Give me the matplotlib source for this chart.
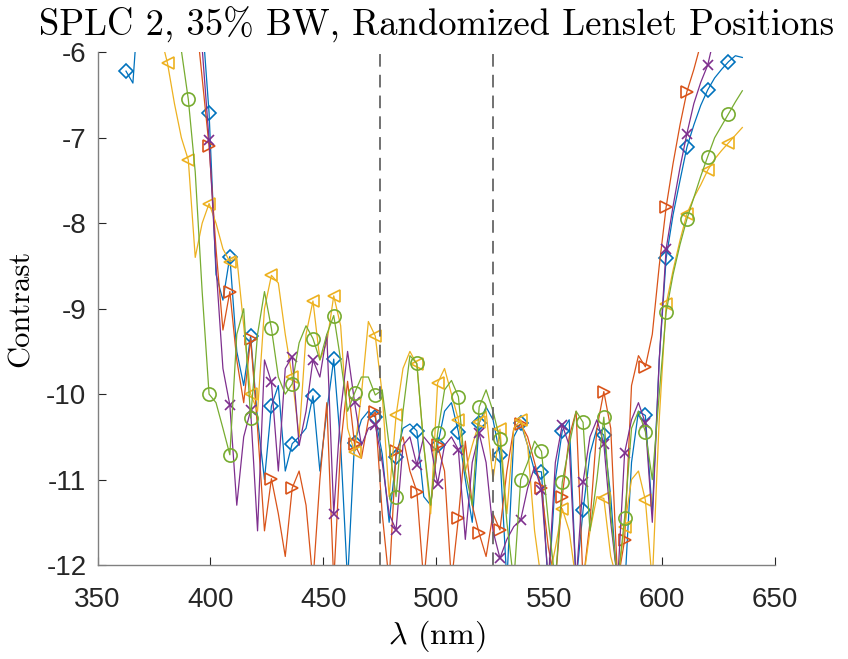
import matplotlib
matplotlib.use('Agg')
import matplotlib.pyplot as plt
import numpy as np

plt.rcParams['axes.unicode_minus'] = False
plt.rcParams['mathtext.fontset'] = 'cm'

# sampling grid in nm, a marker sits on every 3rd sample
wavelength = np.linspace(362.6, 635.5, 90)

# log10 contrast per randomized realisation (values above -6 / below -12 are off the plot)
contrast_1 = [-6.22, -6.36, -5.2, -4.8, -4.5, -4.4, -4.4, -4.5, -4.7, -5.0, -5.3, -5.6,
              -6.71, -8.6, -8.9, -8.39, -9.5, -9.9, -9.32, -10.3, -11.0, -10.14, -9.9, -10.9,
              -10.58, -10.5, -10.4, -10.02, -10.9, -10.2, -9.59, -10.6, -12.2, -10.57, -10.3, -10.2,
              -10.27, -10.7, -11.5, -10.73, -10.4, -10.35, -10.43, -11.2, -11.3, -10.6, -10.2, -10.1,
              -10.44, -11.0, -11.5, -10.34, -10.15, -10.3, -10.71, -12.2, -10.5, -10.34, -10.6, -10.9,
              -10.91, -12.3, -11.0, -10.43, -10.3, -12.2, -11.36, -10.7, -10.4, -10.48, -11.2, -12.3,
              -12.3, -10.8, -10.2, -10.25, -11.4, -9.6, -8.41, -7.9, -7.5, -7.11, -6.85, -6.62,
              -6.44, -6.3, -6.2, -6.11, -6.04, -6.06]
contrast_2 = [-4.0, -4.0, -4.1, -4.2, -4.3, -4.4, -4.5, -4.6, -4.8, -5.0, -5.5, -6.3,
              -7.1, -8.3, -9.25, -8.8, -9.6, -10.1, -9.35, -10.4, -11.6, -10.99, -11.4, -11.9,
              -11.1, -10.9, -11.3, -12.2, -11.0, -10.1, -12.2, -10.6, -9.85, -10.58, -10.75, -10.3,
              -10.21, -11.4, -12.2, -10.67, -10.5, -10.9, -11.14, -12.2, -11.3, -10.6, -10.9, -12.2,
              -11.45, -10.55, -11.3, -11.63, -11.9, -11.4, -11.59, -10.9, -10.4, -10.35, -10.5, -10.8,
              -11.1, -11.8, -12.2, -11.2, -10.5, -10.2, -12.2, -11.5, -10.4, -9.97, -10.4, -12.2,
              -11.71, -9.9, -9.55, -9.68, -9.3, -8.5, -7.81, -7.3, -6.85, -6.46, -6.2, -5.9,
              -5.7, -5.5, -5.3, -5.1, -4.9, -4.7]
contrast_3 = [-4.5, -4.6, -4.7, -5.0, -5.4, -5.8, -6.13, -6.6, -7.0, -7.26, -8.4, -8.0,
              -7.77, -8.0, -8.3, -8.45, -8.4, -9.2, -10.0, -10.2, -9.0, -8.61, -8.7, -9.3,
              -9.8, -10.5, -9.3, -8.91, -9.6, -9.4, -8.85, -9.2, -10.4, -10.68, -10.0, -9.15,
              -9.32, -10.0, -11.2, -10.25, -9.7, -9.5, -9.65, -10.6, -11.4, -9.87, -9.7, -10.0,
              -10.3, -10.9, -10.6, -10.33, -10.2, -11.0, -10.41, -11.4, -10.4, -10.3, -10.6, -11.6,
              -12.2, -12.2, -11.8, -11.34, -11.6, -12.2, -12.2, -11.6, -11.2, -11.22, -11.9, -12.2,
              -11.55, -11.0, -10.9, -11.24, -12.2, -10.3, -8.95, -8.55, -8.2, -7.89, -7.7, -7.55,
              -7.38, -7.25, -7.15, -7.06, -6.97, -6.88]
contrast_4 = [-4.3, -4.3, -4.4, -4.5, -4.6, -4.7, -4.8, -4.9, -5.0, -5.2, -5.5, -5.95,
              -7.03, -8.5, -9.7, -10.13, -11.3, -10.5, -10.19, -11.6, -9.6, -9.86, -10.9, -9.7,
              -9.56, -10.6, -10.2, -9.6, -9.8, -9.3, -11.4, -10.2, -9.5, -10.09, -10.6, -10.4,
              -10.36, -10.8, -11.4, -11.59, -10.6, -10.5, -10.83, -10.5, -10.6, -11.05, -10.6, -10.5,
              -10.65, -11.7, -10.8, -10.46, -10.8, -11.6, -11.92, -11.7, -11.55, -11.47, -11.1, -10.85,
              -11.12, -12.2, -10.8, -10.36, -10.6, -12.2, -11.03, -10.5, -10.3, -10.58, -11.5, -12.2,
              -10.69, -10.3, -10.1, -10.34, -11.5, -9.6, -8.3, -7.8, -7.35, -6.95, -6.6, -6.35,
              -6.15, -5.8, -5.5, -5.2, -5.0, -4.8]
contrast_5 = [-4.5, -4.5, -4.6, -4.7, -4.8, -4.9, -5.1, -5.6, -5.98, -6.55, -7.4, -8.8,
              -10.0, -10.1, -10.4, -10.71, -9.3, -9.0, -10.28, -9.3, -8.8, -9.23, -9.8, -10.0,
              -9.88, -9.4, -9.2, -9.35, -9.6, -9.3, -9.08, -9.6, -10.2, -9.99, -9.8, -9.8,
              -10.01, -9.95, -10.6, -11.2, -10.2, -9.55, -9.64, -10.6, -11.3, -10.46, -9.95, -9.84,
              -10.03, -10.9, -11.3, -10.15, -9.95, -10.2, -10.53, -11.5, -12.2, -11.0, -10.8, -10.55,
              -10.67, -11.5, -12.2, -11.03, -10.6, -10.2, -10.33, -11.6, -11.0, -10.27, -11.4, -12.2,
              -11.45, -10.4, -10.2, -10.44, -11.0, -10.0, -9.04, -8.6, -8.25, -7.95, -7.7, -7.45,
              -7.22, -7.0, -6.86, -6.72, -6.58, -6.45]

band_edges = [475, 525]   # 35% BW dark-hole band, nm
xticks = [350, 400, 450, 500, 550, 600, 650]
yticks = [-12, -11, -10, -9, -8, -7, -6]

series = [
    (contrast_1, '#0072BD', 'D', 7.5),
    (contrast_2, '#D95319', '>', 9),
    (contrast_3, '#EDB120', '<', 9),
    (contrast_4, '#7E2F8E', 'x', 7.5),
    (contrast_5, '#77AC30', 'o', 9.5),
]

fig = plt.figure(figsize=(8.48, 6.59), dpi=100)
ax = fig.add_axes([0.115, 0.1426, 0.799, 0.778])

for vals, col, mk, ms in series:
    ax.plot(wavelength, vals, color=col, lw=0.9, marker=mk, ms=ms,
            mfc='none', mec=col, mew=1.2, markevery=slice(0, None, 3))

for edge in band_edges:
    ax.axvline(edge, color=(0.4, 0.4, 0.4), lw=1.3, ls=(0, (7, 4.5)))

ax.set_xlim(350, 650)
ax.set_ylim(-12, -6)
ax.set_xticks(xticks)
ax.set_yticks(yticks)

axcol = (0.15, 0.15, 0.15)
for side in ['top', 'right']:
    ax.spines[side].set_visible(False)
for side in ['left', 'bottom']:
    ax.spines[side].set_color((0.5, 0.5, 0.5))
    ax.spines[side].set_linewidth(1.0)
ax.tick_params(direction='in', length=6, width=0.8, colors=axcol,
               labelsize=20, pad=8)
ax.tick_params(axis='x', pad=16)
for lab in ax.get_xticklabels() + ax.get_yticklabels():
    lab.set_fontfamily('Liberation Sans')

ax.set_title('SPLC 2, 35% BW, Randomized Lenslet Positions',
             fontfamily='cmr10', fontsize=26.4, pad=12, color='black')
ax.set_xlabel(r'$\lambda$ (nm)', fontfamily='cmr10', fontsize=23, labelpad=4)
ax.set_ylabel('Contrast', fontfamily='cmr10', fontsize=22, labelpad=8)

fig.savefig('out.png', dpi=100)
